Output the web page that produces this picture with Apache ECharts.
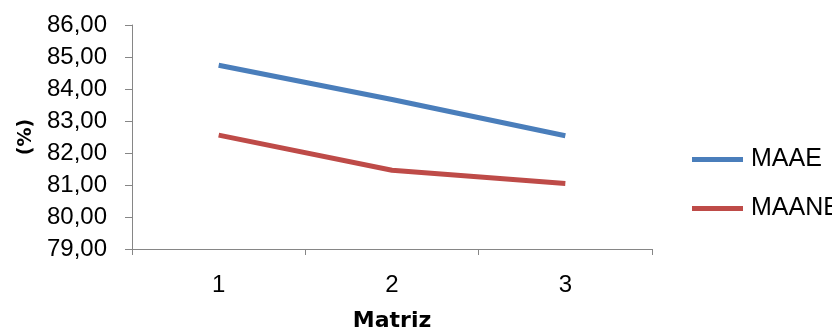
<!DOCTYPE html>
<html><head><meta charset="utf-8">
<script src="https://cdn.jsdelivr.net/npm/echarts@6/dist/echarts.min.js"></script>
<style>html,body{margin:0;padding:0;background:#fff}#c{width:832px;height:334px}</style>
</head><body><div id="c"></div>
<script>
const categories = ['1', '2', '3'];
const maae = [84.74, 83.67, 82.54];
const maane = [82.56, 81.46, 81.05];
const yMin = 79, yMax = 86, yStep = 1;

const chart = echarts.init(document.getElementById('c'), null, {renderer: 'canvas'});
const labelFont = {fontFamily: 'Liberation Sans, Arial, sans-serif', fontSize: 24, color: '#000'};
chart.setOption({
  animation: false,
  grid: {left: 132, right: 180, top: 25, bottom: 85, outerBoundsMode: 'none'},
  legend: {
    orient: 'vertical', left: 692, top: 147, padding: 0, itemWidth: 51, itemHeight: 5, itemGap: 24,
    icon: 'rect',
    textStyle: Object.assign({}, labelFont, {fontSize: 25, lineHeight: 24, padding: [0,0,0,3]}),
    data: ['MAAE', 'MAANE']
  },
  xAxis: {
    type: 'category', data: categories, boundaryGap: true,
    name: 'Matriz', nameLocation: 'middle', nameGap: 61,
    nameTextStyle: {fontFamily: 'DejaVu Sans', fontWeight: 'bold', fontSize: 22, color: '#000'},
    axisLine: {lineStyle: {color: '#868686', width: 1}},
    axisTick: {show: true, length: 6, alignWithLabel: false, lineStyle: {color: '#868686'}},
    axisLabel: Object.assign({}, labelFont, {margin: 24}),
    splitLine: {show: false}
  },
  yAxis: {
    type: 'value', min: yMin, max: yMax, interval: yStep,
    name: '(%)', nameLocation: 'middle', nameGap: 96, nameRotate: 90,
    nameTextStyle: {fontFamily: 'DejaVu Sans', fontWeight: 'bold', fontSize: 19, color: '#000'},
    axisLine: {show: true, lineStyle: {color: '#868686', width: 1}},
    axisTick: {show: true, length: 7, lineStyle: {color: '#868686'}},
    axisLabel: Object.assign({}, labelFont, {margin: 25, formatter: v => v.toFixed(2).replace('.', ',')}),
    splitLine: {show: false}
  },
  series: [
    {name: 'MAAE', type: 'line', data: maae, symbol: 'none', color: '#4A7EBB', lineStyle: {width: 5, color: '#4A7EBB'}},
    {name: 'MAANE', type: 'line', data: maane, symbol: 'none', color: '#BE4B48', lineStyle: {width: 5, color: '#BE4B48'}}
  ]
});
</script></body></html>
